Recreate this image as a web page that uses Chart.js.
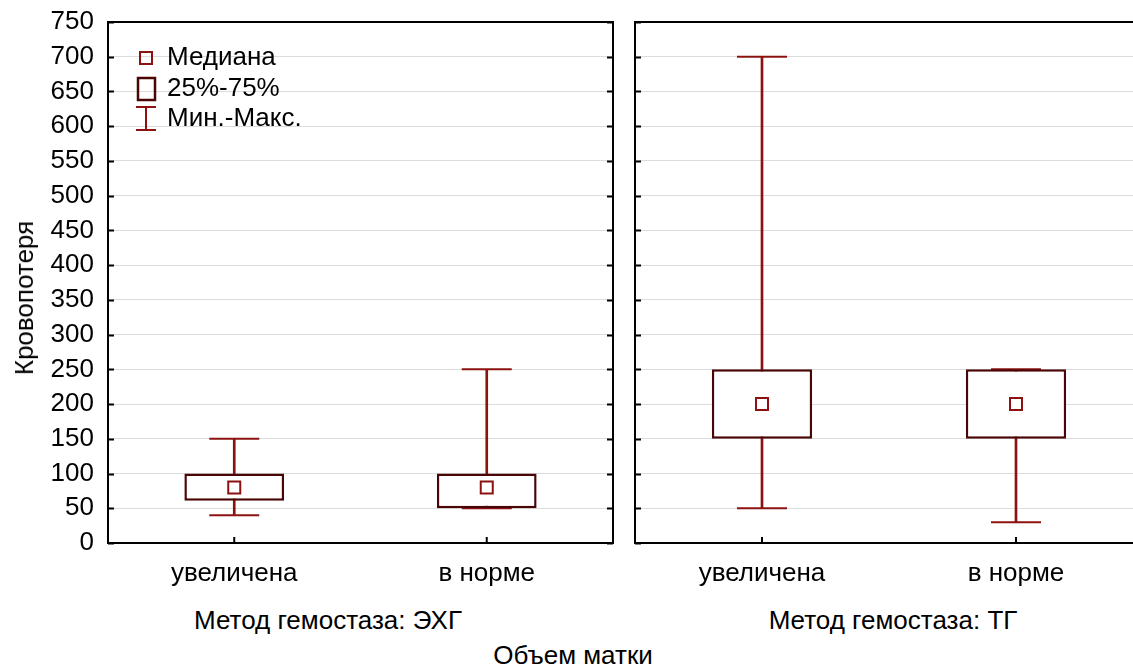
<!DOCTYPE html>
<html>
<head>
<meta charset="utf-8">
<script src="https://cdn.jsdelivr.net/npm/chart.js@4.4.1/dist/chart.umd.min.js"></script>
<style>
html,body{margin:0;padding:0;background:#fff;overflow:hidden;width:1133px;height:666px;position:relative;}
canvas{position:absolute;top:0;}
#c1{left:0;}
#c2{left:614px;}
.t{position:absolute;font-family:"Liberation Sans",Arial,sans-serif;font-size:26px;line-height:1;color:#000;white-space:nowrap;transform:translate(-50%,-50%);}
#ytitle{transform:translate(-50%,-50%) rotate(-90deg);}
</style>
</head>
<body>
<canvas id="c1" width="620" height="600"></canvas>
<canvas id="c2" width="536" height="600"></canvas>
<div class="t" id="g1" style="left:328px;top:620px"></div>
<div class="t" id="g2" style="left:893px;top:620px"></div>
<div class="t" id="xtitle" style="left:573px;top:655px"></div>
<div class="t" id="ytitle" style="left:24px;top:298px"></div>
<script>
const categories=['увеличена','в норме'];
const groups=['Метод гемостаза: ЭХГ','Метод гемостаза: ТГ'];
const xTitle='Объем матки';
const yTitle='Кровопотеря';
const yTicks=[0,50,100,150,200,250,300,350,400,450,500,550,600,650,700,750];
const legendLabels=['Медиана','25%-75%','Мин.-Макс.'];

// Метод гемостаза: ЭХГ
const ehgMin=[40,50];
const ehgQ1=[61,50];
const ehgMedian=[80,80];
const ehgQ3=[100,100];
const ehgMax=[150,250];
// Метод гемостаза: ТГ
const tgMin=[50,30];
const tgQ1=[150,150];
const tgMedian=[200,200];
const tgQ3=[250,250];
const tgMax=[700,250];

const FONT='"Liberation Sans", Arial, sans-serif';
const RED='#8c1212';
const DARK='#4a0606';

document.querySelector('#g1').textContent=groups[0];
document.querySelector('#g2').textContent=groups[1];
document.querySelector('#xtitle').textContent=xTitle;
document.querySelector('#ytitle').textContent=yTitle;

const framePlugin={
  id:'frame',
  afterDraw(chart){
    const {ctx,chartArea:a,scales:{x,y}}=chart;
    ctx.save();
    ctx.strokeStyle='#000';ctx.lineWidth=2;
    ctx.strokeRect(a.left,a.top,a.right-a.left,a.bottom-a.top);
    ctx.beginPath();
    yTicks.forEach(v=>{
      const py=Math.round(y.getPixelForValue(v))+0.5;
      ctx.moveTo(a.left,py);ctx.lineTo(a.left+6,py);
      ctx.moveTo(a.right,py);ctx.lineTo(a.right-6,py);
    });
    categories.forEach((c,i)=>{
      const px=x.getPixelForValue(i);
      ctx.moveTo(px,a.bottom);ctx.lineTo(px,a.bottom-6);
    });
    ctx.stroke();
    ctx.restore();
  }
};

const legendPlugin={
  id:'boxLegend',
  afterDraw(chart){
    const {ctx}=chart;
    ctx.save();
    ctx.strokeStyle=RED;ctx.lineWidth=2;
    ctx.strokeRect(140,52,12,12);
    ctx.strokeStyle=DARK;ctx.lineWidth=2.5;
    ctx.strokeRect(138,78,17,22);
    ctx.strokeStyle=RED;ctx.lineWidth=2;
    ctx.beginPath();
    ctx.moveTo(136,107);ctx.lineTo(156,107);
    ctx.moveTo(146,107);ctx.lineTo(146,130);
    ctx.moveTo(136,130);ctx.lineTo(156,130);
    ctx.stroke();
    ctx.fillStyle='#000';ctx.font='26px '+FONT;ctx.textBaseline='middle';
    ctx.fillText(legendLabels[0],167,58);
    ctx.fillText(legendLabels[1],167,89);
    ctx.fillText(legendLabels[2],167,119);
    ctx.restore();
  }
};

function makeChart(id,mins,q1s,meds,q3s,maxs,first){
  return new Chart(document.getElementById(id),{
    data:{
      labels:categories,
      datasets:[
        {type:'line',data:meds,showLine:false,pointStyle:'rect',pointRadius:8.5,pointHoverRadius:8.5,
          pointBorderWidth:2,pointBorderColor:RED,pointBackgroundColor:'#fff',order:0},
        {type:'bar',data:q1s.map((v,i)=>[v,q3s[i]]),grouped:false,barPercentage:0.395,categoryPercentage:1,
          backgroundColor:'#fff',borderColor:DARK,borderWidth:2.5,borderSkipped:false,order:1},
        {type:'line',data:mins,showLine:false,pointStyle:'line',pointRadius:25,pointHoverRadius:25,
          pointBorderWidth:2,pointBorderColor:RED,order:2},
        {type:'line',data:maxs,showLine:false,pointStyle:'line',pointRadius:25,pointHoverRadius:25,
          pointBorderWidth:2,pointBorderColor:RED,order:2},
        {type:'bar',data:mins.map((v,i)=>[v,maxs[i]]),grouped:false,barThickness:2,
          backgroundColor:RED,borderWidth:0,order:3}
      ]
    },
    options:{
      responsive:false,animation:false,
      layout:{autoPadding:false,padding:{top:22,right:7,bottom:0,left:first?0:21}},
      plugins:{legend:{display:false},tooltip:{enabled:false}},
      scales:{
        x:{offset:true,grid:{display:false,drawTicks:false},border:{display:false},
          ticks:{color:'#000',font:{family:FONT,size:26},padding:15},
          afterFit:s=>{s.height=57;s.paddingLeft=0;s.paddingRight=0;}},
        y:{min:0,max:750,
          afterBuildTicks:s=>{s.ticks=yTicks.map(v=>({value:v}));},
          grid:{color:'#dcdcdc',lineWidth:1,drawTicks:false},border:{display:false},
          ticks:{display:first,color:'#000',font:{family:FONT,size:26},padding:14},
          afterFit:s=>{s.width=first?108:0;s.paddingTop=0;s.paddingBottom=0;}}
      }
    },
    plugins:first?[framePlugin,legendPlugin]:[framePlugin]
  });
}

makeChart('c1',ehgMin,ehgQ1,ehgMedian,ehgQ3,ehgMax,true);
makeChart('c2',tgMin,tgQ1,tgMedian,tgQ3,tgMax,false);
</script>
</body>
</html>
